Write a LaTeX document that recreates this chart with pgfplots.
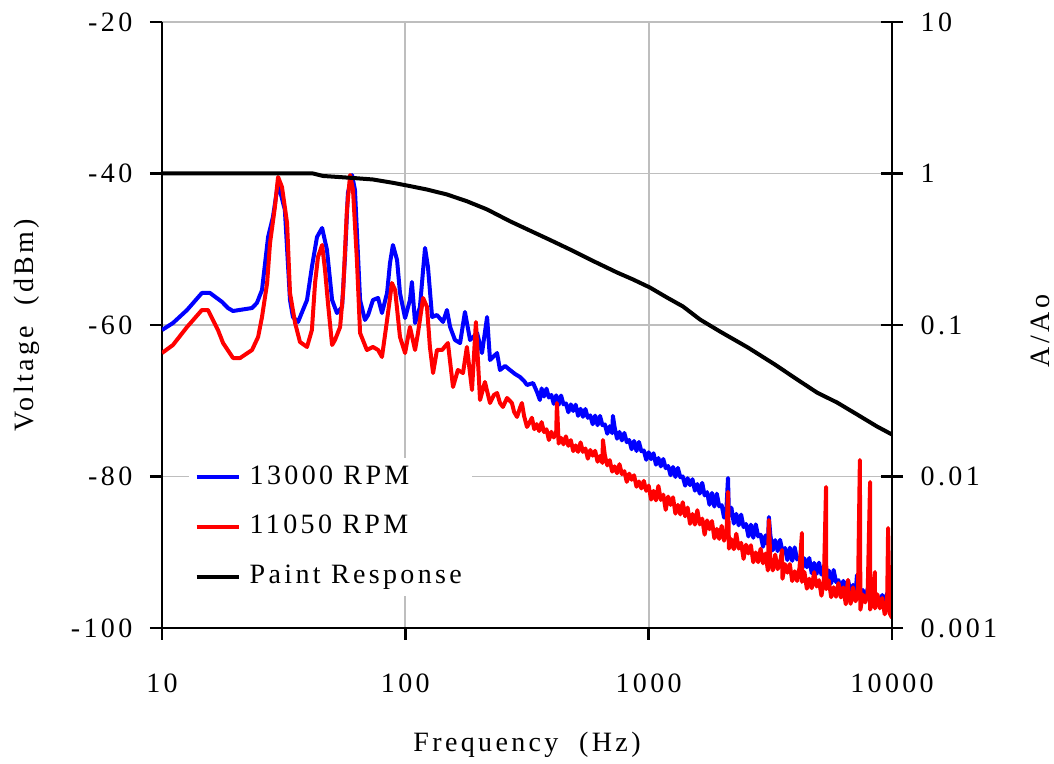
\documentclass[border=0pt]{standalone}
\usepackage{fontspec}
\setmainfont{Liberation Serif}[LetterSpace=12]
\usepackage{pgfplots}
\pgfplotsset{compat=1.18}
\definecolor{gridgray}{RGB}{190,190,190}
\newcommand\cf{\fontsize{14pt}{17pt}\selectfont}
\begin{document}
\cf
\begin{tikzpicture}
\useasboundingbox (0,0) rectangle (527pt,382pt);
\begin{axis}[
  at={(81pt,68pt)}, anchor=south west,
  scale only axis, width=365pt, height=303pt,
  xmin=1, xmax=4, ymin=-100, ymax=-20,
  axis x line*=bottom, axis y line*=left,
  axis line style={line width=1.4pt, -},
  xtick={1,2,3,4}, xticklabels={10,100,1000,10000},
  ytick={-100,-80,-60,-40,-20}, yticklabels={-100,-80,-60,-40,-20},
  tick align=outside, major tick length=6pt,
  tick style={line width=1.4pt, black},
  grid=major, major grid style={gridgray, line width=0.9pt},
  every tick label/.append style={font=\cf},
  xticklabel style={yshift=-12pt},
  yticklabel style={xshift=-4pt},
  label style={font=\cf},
  xlabel={Frequency\ \ (Hz)}, ylabel={Voltage\ \ (dBm)},
  xlabel style={at={(axis description cs:0.5,-0.193)}, anchor=center},
  ylabel style={at={(axis description cs:-0.185,0.5)}, anchor=center},
]
\addplot[blue, line width=2pt, line join=round] coordinates {
(1.000,-60.66)(1.045,-59.74)(1.103,-58.02)(1.164,-55.77)(1.197,-55.77)(1.247,-56.96)(1.271,-57.76)(1.292,-58.15)(1.370,-57.76)(1.390,-57.09)(1.411,-55.38)(1.436,-48.38)(1.456,-45.74)(1.477,-41.25)(1.505,-44.82)(1.526,-56.70)(1.538,-58.94)(1.559,-59.60)(1.596,-56.70)(1.616,-52.34)(1.637,-48.38)(1.658,-47.19)(1.678,-50.10)(1.699,-56.70)(1.719,-58.42)(1.740,-57.62)(1.752,-51.02)(1.764,-42.57)(1.781,-40.20)(1.793,-42.18)(1.814,-56.70)(1.834,-59.34)(1.847,-58.68)(1.867,-56.70)(1.888,-56.43)(1.904,-58.42)(1.925,-55.77)(1.937,-51.81)(1.949,-49.44)(1.966,-51.42)(1.978,-55.77)(1.999,-59.08)(2.019,-56.70)(2.027,-54.32)(2.040,-59.74)(2.060,-57.62)(2.073,-52.74)(2.081,-49.83)(2.093,-52.34)(2.110,-58.94)(2.130,-58.68)(2.155,-59.60)(2.171,-58.02)(2.184,-60.26)(2.204,-61.98)(2.225,-62.38)(2.245,-58.28)(2.266,-61.98)(2.295,-61.06)(2.315,-63.70)(2.336,-58.94)(2.348,-64.62)(2.377,-63.70)(2.389,-65.94)(2.410,-65.41)(2.430,-65.94)(2.451,-66.47)(2.471,-66.86)(2.488,-67.39)(2.500,-67.92)(2.525,-67.66)(2.541,-68.84)(2.553,-69.90)
(2.56,-68.37)(2.57,-69.44)(2.58,-68.40)(2.59,-69.57)(2.60,-69.24)(2.61,-70.41)(2.62,-69.28)(2.63,-70.54)(2.64,-69.31)(2.65,-70.48)(2.66,-70.35)(2.67,-71.52)(2.68,-70.48)(2.69,-71.35)(2.70,-70.52)(2.71,-71.99)(2.72,-71.06)(2.73,-72.12)(2.74,-71.09)(2.75,-72.26)(2.76,-71.93)(2.77,-73.10)(2.78,-71.96)(2.79,-73.23)(2.80,-72.00)(2.81,-73.22)(2.82,-73.13)(2.83,-74.35)(2.84,-73.36)(2.85,-74.28)(2.853,-72.00)(2.86,-73.49)(2.87,-75.01)(2.88,-74.12)(2.89,-75.24)(2.90,-74.25)(2.91,-75.47)(2.92,-75.18)(2.93,-76.40)(2.94,-75.31)(2.95,-76.63)(2.96,-75.44)(2.97,-76.66)(2.98,-76.57)(2.99,-77.79)(3.00,-76.80)
(3.01,-77.71)(3.02,-76.93)(3.03,-78.44)(3.04,-77.56)(3.05,-78.67)(3.06,-77.69)(3.07,-78.90)(3.08,-78.61)(3.09,-79.83)(3.10,-78.74)(3.11,-80.06)(3.12,-78.87)(3.13,-80.09)(3.14,-80.00)(3.15,-81.21)(3.16,-80.23)(3.17,-81.14)(3.18,-80.36)(3.19,-81.87)(3.20,-80.99)(3.21,-82.26)(3.22,-80.84)(3.23,-82.50)(3.24,-82.07)(3.25,-83.73)(3.26,-82.17)(3.27,-83.97)(3.28,-82.27)(3.29,-83.94)(3.30,-83.78)(3.31,-85.44)(3.32,-84.02)(3.326,-80.20)(3.33,-85.26)(3.34,-84.12)(3.35,-86.21)(3.36,-84.93)(3.37,-86.45)(3.38,-85.03)(3.39,-86.69)(3.40,-86.26)
(3.41,-87.92)(3.42,-86.36)(3.43,-88.09)(3.44,-86.32)(3.45,-87.91)(3.46,-87.68)(3.47,-89.27)(3.48,-87.78)(3.49,-88.95)(3.494,-85.34)(3.50,-87.74)(3.51,-89.75)(3.52,-88.40)(3.53,-89.85)(3.54,-88.36)(3.55,-89.95)(3.56,-89.44)(3.57,-91.03)(3.58,-89.40)(3.59,-91.13)(3.60,-89.36)(3.61,-90.95)(3.62,-90.72)(3.63,-92.31)(3.64,-90.81)(3.65,-91.98)(3.66,-90.76)(3.67,-92.77)(3.68,-91.41)(3.69,-92.86)(3.70,-91.37)(3.71,-92.95)(3.72,-92.44)(3.73,-94.02)(3.74,-92.39)(3.75,-94.11)(3.76,-92.34)(3.77,-93.93)(3.78,-93.69)(3.79,-95.28)(3.80,-93.78)
(3.81,-94.95)(3.82,-93.73)(3.83,-95.74)(3.84,-94.30)(3.85,-95.66)(3.856,-93.00)(3.86,-94.08)(3.87,-95.58)(3.88,-94.98)(3.89,-96.48)(3.90,-94.76)(3.91,-96.40)(3.92,-94.54)(3.93,-96.04)(3.94,-95.72)(3.95,-97.22)(3.96,-95.64)(3.97,-96.72)(3.98,-95.42)(3.99,-97.34)(4.00,-97.62)
};
\addplot[red, line width=2pt, line join=round] coordinates {
(1.000,-63.70)(1.045,-62.64)(1.103,-60.26)(1.164,-58.02)(1.189,-58.02)(1.230,-60.66)(1.251,-62.38)(1.292,-64.36)(1.321,-64.36)(1.370,-63.30)(1.395,-61.58)(1.411,-58.94)(1.432,-54.46)(1.444,-49.17)(1.464,-44.42)(1.477,-40.46)(1.493,-41.78)(1.514,-46.53)(1.526,-55.77)(1.547,-59.74)(1.567,-62.24)(1.596,-62.90)(1.616,-60.66)(1.629,-54.46)(1.641,-51.02)(1.658,-49.44)(1.670,-52.74)(1.682,-57.09)(1.699,-62.64)(1.711,-61.98)(1.732,-60.26)(1.744,-55.77)(1.760,-44.82)(1.773,-40.20)(1.785,-42.18)(1.801,-51.42)(1.814,-61.06)(1.842,-63.30)(1.867,-62.90)(1.888,-63.30)(1.904,-64.22)(1.925,-59.34)(1.945,-54.46)(1.958,-55.38)(1.978,-61.58)(1.999,-63.70)(2.011,-61.58)(2.019,-60.26)(2.040,-63.30)(2.052,-61.06)(2.073,-56.43)(2.089,-57.62)(2.101,-62.90)(2.114,-66.34)(2.130,-63.30)(2.151,-63.30)(2.175,-62.38)(2.196,-68.18)(2.216,-65.94)(2.237,-66.34)(2.253,-62.90)(2.274,-68.58)(2.290,-59.60)(2.307,-69.90)(2.327,-67.52)(2.348,-70.30)(2.364,-69.24)(2.377,-68.98)(2.389,-70.30)(2.401,-70.82)(2.418,-69.64)(2.438,-70.30)(2.447,-71.48)(2.459,-72.14)(2.471,-70.96)(2.479,-70.30)(2.488,-72.01)(2.500,-73.46)
(2.51,-72.92)(2.52,-72.24)(2.53,-73.76)(2.54,-73.08)(2.55,-74.00)(2.56,-72.82)(2.57,-74.14)(2.58,-73.76)(2.59,-75.18)(2.60,-74.10)(2.61,-74.85)(2.62,-74.20)(2.623,-70.30)(2.63,-75.65)(2.64,-74.90)(2.65,-75.75)(2.66,-74.70)(2.67,-75.95)(2.68,-75.20)(2.69,-76.65)(2.70,-75.90)(2.71,-76.75)(2.72,-75.50)(2.73,-76.75)(2.74,-76.30)(2.75,-77.65)(2.76,-76.50)(2.77,-77.25)(2.78,-76.60)(2.79,-78.05)(2.80,-77.30)(2.81,-78.21)(2.812,-75.18)(2.82,-77.22)(2.83,-78.53)(2.84,-77.84)(2.85,-79.35)(2.86,-78.66)(2.87,-79.57)(2.88,-78.38)(2.89,-79.69)(2.90,-79.30)
(2.91,-80.71)(2.92,-79.62)(2.93,-80.43)(2.94,-79.84)(2.95,-81.35)(2.96,-80.66)(2.97,-81.57)(2.98,-80.58)(2.99,-81.89)(3.00,-81.20)(3.01,-83.05)(3.02,-81.90)(3.03,-83.15)(3.04,-81.25)(3.05,-83.10)(3.06,-82.40)(3.07,-84.40)(3.08,-82.65)(3.09,-83.75)(3.10,-82.75)(3.11,-84.90)(3.12,-83.75)(3.13,-85.00)(3.14,-83.40)(3.15,-85.25)(3.16,-84.10)(3.17,-86.25)(3.18,-84.95)(3.19,-86.35)(3.20,-84.45)
(3.21,-86.32)(3.22,-85.56)(3.23,-87.68)(3.24,-85.80)(3.25,-86.96)(3.26,-85.88)(3.27,-88.16)(3.28,-86.92)(3.29,-88.24)(3.30,-86.52)(3.31,-88.48)(3.32,-87.24)(3.326,-82.04)(3.33,-89.52)(3.34,-88.28)(3.35,-89.60)(3.36,-87.56)(3.37,-89.52)(3.38,-88.76)(3.39,-90.88)(3.40,-89.00)(3.41,-90.16)(3.42,-89.08)(3.43,-91.32)(3.44,-90.03)(3.45,-91.31)(3.46,-89.54)(3.47,-91.46)(3.48,-90.17)(3.49,-92.41)(3.494,-85.74)(3.50,-91.12)(3.51,-92.40)(3.52,-90.31)(3.53,-92.23)(3.54,-91.42)(3.548,-89.70)(3.55,-93.50)(3.56,-91.57)(3.57,-92.69)(3.58,-91.56)(3.59,-93.80)(3.60,-92.51)
(3.61,-93.79)(3.62,-92.02)(3.630,-87.46)(3.63,-93.91)(3.64,-92.60)(3.65,-94.81)(3.66,-93.49)(3.67,-94.74)(3.68,-92.63)(3.69,-94.52)(3.70,-93.69)(3.71,-95.74)(3.72,-93.79)(3.729,-81.38)(3.73,-94.87)(3.74,-93.72)(3.75,-95.93)(3.76,-94.62)(3.77,-95.87)(3.78,-94.08)(3.79,-95.97)(3.80,-94.65)(3.81,-96.86)(3.819,-93.66)(3.82,-95.55)(3.83,-96.80)(3.84,-94.64)(3.85,-96.47)(3.86,-95.59)(3.868,-77.82)(3.87,-97.59)(3.88,-95.58)(3.89,-96.62)(3.90,-95.42)(3.910,-80.72)(3.91,-97.57)(3.92,-96.21)(3.930,-92.61)(3.93,-97.41)(3.94,-95.56)(3.95,-97.40)(3.96,-96.04)(3.97,-98.19)(3.98,-96.83)(3.984,-86.80)(3.99,-98.03)(4.00,-98.68)
};
\end{axis}
\begin{axis}[
  at={(81pt,68pt)}, anchor=south west,
  scale only axis, width=365pt, height=303pt,
  xmin=1, xmax=4, ymode=log, ymin=0.001, ymax=10,
  axis x line=none, axis y line*=right,
  axis line style={line width=1.4pt, -},
  ytick={0.001,0.01,0.1,1,10}, yticklabels={0.001,0.01,0.1,1,10},
  yminorticks=false,
  tick align=center, major tick length=11pt,
  tick style={line width=1.4pt, black},
  every tick label/.append style={font=\cf},
  yticklabel style={xshift=4pt},
  label style={font=\cf},
  ylabel={A/Ao},
  ylabel style={at={(axis description cs:1.2027,0.49)}, anchor=center},
  legend style={at={(axis description cs:0.036,0.282)}, anchor=north west,
    draw=none, fill=white, font=\cf, row sep=9.5pt,
    /tikz/every odd column/.append style={column sep=2.5pt}},
  legend cell align=left,
  legend image code/.code={\draw[#1] (0pt,0pt) -- (21pt,0pt);},
]
\addlegendimage{blue, line width=2pt}
\addlegendentry{13000 RPM}
\addlegendimage{red, line width=2pt}
\addlegendentry{11050 RPM}
\addplot[black, line width=2pt, line join=round] coordinates {
(1.000,1.0)(1.621,1.0)(1.662,0.963)(1.773,0.937)(1.867,0.913)(1.949,0.868)(2.007,0.833)(2.089,0.784)(2.171,0.727)(2.253,0.656)(2.336,0.579)(2.430,0.484)(2.512,0.420)(2.595,0.364)(2.677,0.315)(2.759,0.2706)(2.870,0.2221)(2.936,0.1997)(3.005,0.1768)(3.075,0.1519)(3.141,0.1325)(3.211,0.1087)(3.293,0.0906)(3.408,0.0710)(3.519,0.0548)(3.610,0.0437)(3.692,0.0358)(3.774,0.0308)(3.856,0.0257)(3.938,0.0214)(4.000,0.01893)
};
\addlegendentry{Paint Response}
\end{axis}
\end{tikzpicture}
\end{document}
